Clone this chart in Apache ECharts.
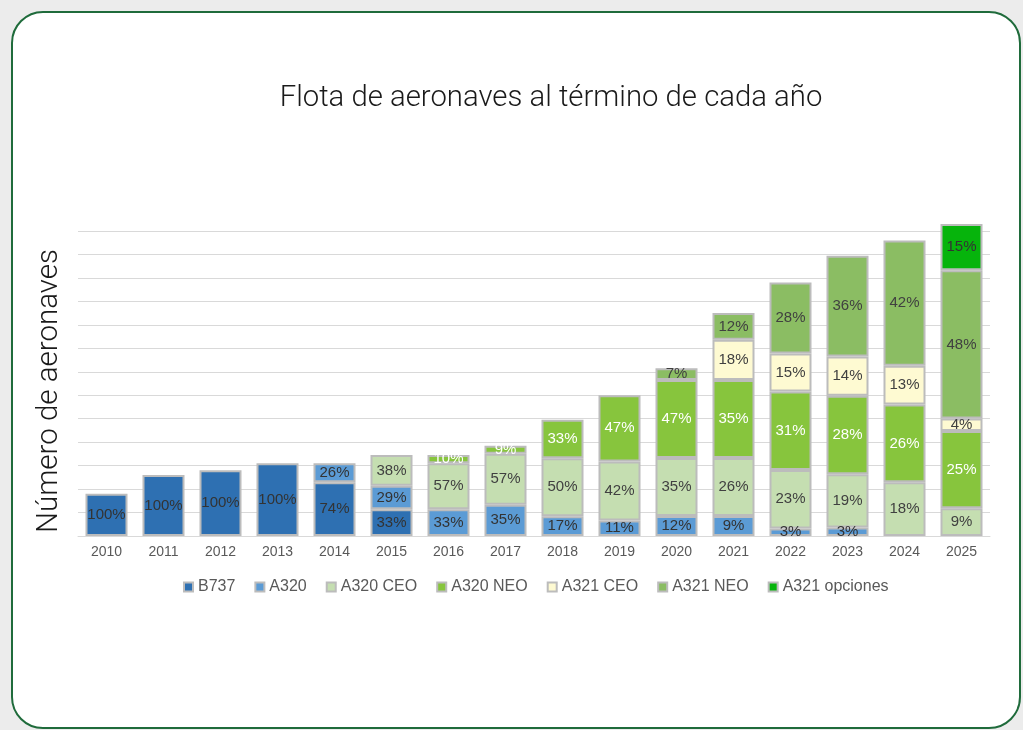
<!DOCTYPE html>
<html>
<head>
<meta charset="utf-8">
<script src="https://cdn.jsdelivr.net/npm/echarts@6/dist/echarts.min.js"></script>
<style>
  html, body { margin:0; padding:0; background:#ececec; }
  #card { position:absolute; left:11px; top:11px; width:1010px; height:718px; box-sizing:border-box;
          border:2px solid #1f6b3b; border-radius:32px; background:#ffffff; }
  #chart { position:absolute; left:0; top:0; width:1023px; height:730px; }
</style>
</head>
<body>
<div id="card"></div>
<div id="chart"></div>
<script>
const years = ['2010','2011','2012','2013','2014','2015','2016','2017','2018','2019','2020','2021','2022','2023','2024','2025'];
// total fleet (bar heights, in gridline units x10)
const totals = [18, 26, 28, 31, 31, 34.5, 34.5, 38.5, 49.5, 60, 71.5, 95, 108, 119.5, 126, 133];
// shares (%) shown in each segment
const b737Share     = [100,100,100,100,74,33,null,null,null,null,null,null,null,null,null,null];
const a320Share     = [null,null,null,null,26,29,33,35,17,11,12,9,3,3,null,null];
const a320ceoShare  = [null,null,null,null,null,38,57,57,50,42,35,26,23,19,18,9];
const a320neoShare  = [null,null,null,null,null,null,10,9,33,47,47,35,31,28,26,25];
const a321ceoShare  = [null,null,null,null,null,null,null,null,null,null,null,18,15,14,13,4];
const a321neoShare  = [null,null,null,null,null,null,null,null,null,null,7,12,28,36,42,48];
const opcionesShare = [null,null,null,null,null,null,null,null,null,null,null,null,null,null,null,15];

const defs = [
  {name:'B737', shares:b737Share, color:'#2e70b2', label:'#333333'},
  {name:'A320', shares:a320Share, color:'#5b9bd5', label:'#333333'},
  {name:'A320 CEO', shares:a320ceoShare, color:'#c5deb1', label:'#404040'},
  {name:'A320 NEO', shares:a320neoShare, color:'#87c53d', label:'#ffffff'},
  {name:'A321 CEO', shares:a321ceoShare, color:'#fefad2', label:'#404040'},
  {name:'A321 NEO', shares:a321neoShare, color:'#8bbd63', label:'#404040'},
  {name:'A321 opciones', shares:opcionesShare, color:'#06b40c', label:'#333333'}
];

const shareSums = years.map((y,i) => defs.reduce((s,d) => s + (d.shares[i] || 0), 0));

const FONT = "'Liberation Sans', Arial, Helvetica, sans-serif";
const LIGHT = "Roboto, 'Liberation Sans', Arial, sans-serif";

const series = defs.map(d => ({
  name: d.name,
  type: 'bar',
  stack: 'total',
  barWidth: 42,
  clip: false,
  itemStyle: { color: d.color, borderColor: '#bcbcbc', borderWidth: 2 },
  label: {
    show: true,
    position: 'inside',
    color: d.label,
    fontSize: 15,
    fontFamily: FONT,
    formatter: p => d.shares[p.dataIndex] + '%'
  },
  data: d.shares.map((s,i) => s == null ? '-' : totals[i] * s / shareSums[i])
}));

const chart = echarts.init(document.getElementById('chart'), null, {renderer:'canvas'});
chart.setOption({
  backgroundColor: 'transparent',
  animation: false,
  title: {
    text: 'Flota de aeronaves al término de cada año',
    left: 546, top: 79, textAlign: 'center',
    textStyle: { fontFamily: LIGHT, fontSize: 29.3, fontWeight: 300, color: '#1a1a1a' }
  },
  graphic: [{
    type: 'text', x: 50, y: 391, rotation: Math.PI/2,
    style: { text: 'Número de aeronaves', font: "300 29.5px Roboto, 'Liberation Sans', Arial, sans-serif",
             fill: '#1a1a1a', textAlign: 'center', textVerticalAlign: 'middle', verticalAlign: 'middle' }
  }],
  legend: {
    left: 178, top: 574,
    itemWidth: 9, itemHeight: 9, itemGap: 19,
    icon: 'rect',
    textStyle: { fontFamily: FONT, fontSize: 16, color: '#595959' },
    data: defs.map(d => d.name)
  },
  grid: { left: 78, right: 33, top: 231, bottom: 194, containLabel: false },
  xAxis: {
    type: 'category', data: years,
    axisLine: { lineStyle: { color: '#d9d9d9', width: 1 } },
    axisTick: { show: false },
    axisLabel: { fontFamily: FONT, fontSize: 14, color: '#595959', margin: 9 }
  },
  yAxis: {
    type: 'value', min: 0, max: 130, interval: 10,
    axisLabel: { show: false },
    axisLine: { show: false }, axisTick: { show: false },
    splitLine: { lineStyle: { color: '#d9d9d9', width: 1 } }
  },
  series: series
});
</script>
</body>
</html>
